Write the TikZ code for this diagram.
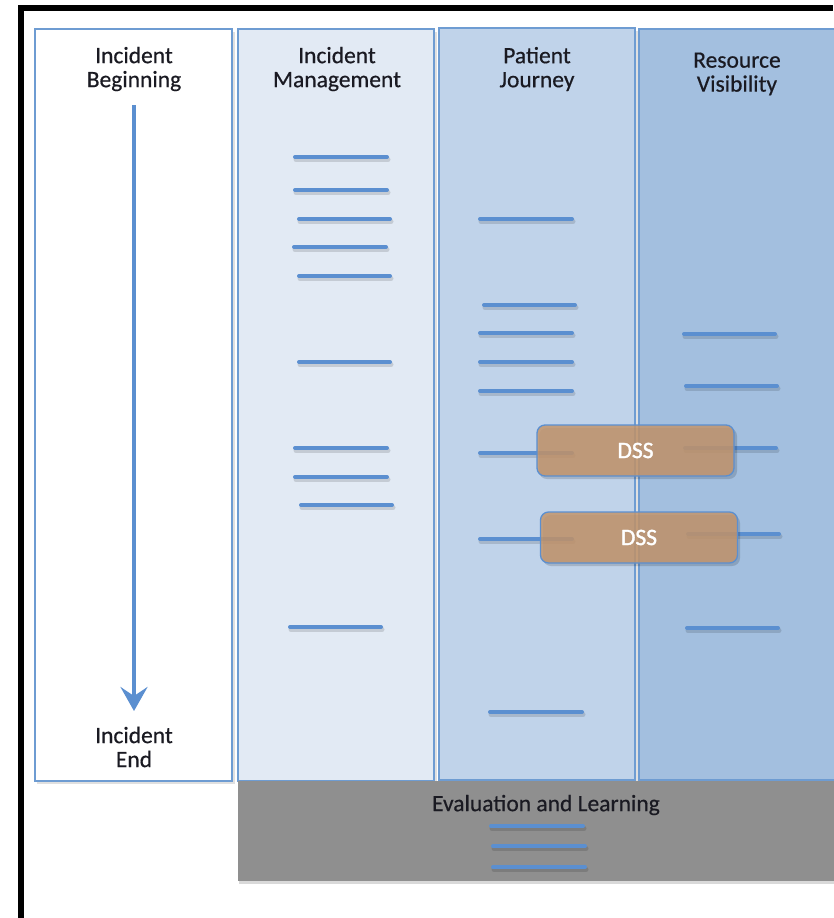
\documentclass[tikz,border=0pt]{standalone}
\usepackage{fontspec}
\setmainfont{Carlito}
\newfontfamily\hdrfont{Carlito}[FakeBold=0.5]
\newfontfamily\dssfont{Carlito}[FakeBold=1.6]
\usetikzlibrary{arrows.meta}
\definecolor{lineblue}{HTML}{5B8FD0}
\definecolor{edgeblue}{HTML}{6E9CD2}
\definecolor{colB}{HTML}{E2EAF4}
\definecolor{colC}{HTML}{C0D3EA}
\definecolor{colD}{HTML}{A3BFDF}
\definecolor{evalgray}{HTML}{8F8F8F}
\definecolor{dssfill}{HTML}{C3956C}
\definecolor{txt}{HTML}{1A1A22}
\newcommand{\bluebar}[3]{%
  \draw[barshadow] (#1+1,#3+2.5) -- (#2+1,#3+2.5);
  \draw[bar] (#1,#3) -- (#2,#3);}
\begin{document}
\begin{tikzpicture}[x=1pt,y=-1pt,
  lane/.style={draw=edgeblue, line width=1.3pt},
  lanetext/.style={align=center, text=txt, font=\hdrfont\fontsize{23.5}{24}\selectfont, inner sep=0pt},
  bar/.style={lineblue, line width=4pt, line cap=round},
  barshadow/.style={black, opacity=0.13, line width=5pt, line cap=round},
  dss/.style={draw=lineblue, line width=1.3pt, fill=dssfill, fill opacity=0.85, text opacity=1,
    text=white, rounded corners=8pt, minimum width=197pt, minimum height=51pt,
    font=\dssfont\fontsize{23.5}{24}\selectfont}]
\useasboundingbox (0,0) rectangle (833,918);
\fill[white] (0,0) rectangle (833,918);
% outer frame
\fill[black] (18,5) rectangle (24,918);
\fill[black] (18,5) rectangle (833,11);
% lanes (shadows)
\fill[black, opacity=0.12] (37,32) rectangle (235,784);
\fill[black, opacity=0.12] (240,32) rectangle (437,784);
\fill[black, opacity=0.12] (441,31) rectangle (638,783);
% lanes
\draw[lane, fill=white] (35,29) rectangle (232,781);
\draw[lane, fill=colB] (238,29) rectangle (434,781);
\draw[lane, fill=colC] (439,28) rectangle (635,780);
\draw[lane, fill=colD] (639,29) rectangle (850,780);
% evaluation bar
\fill[black, opacity=0.15] (239,784) rectangle (850,884);
\fill[evalgray] (238,781) rectangle (850,881);
% headers
\node[lanetext] (hA) at (134,69) {Incident\\Beginning};
\node[lanetext] (hB) at (337,69) {Incident\\Management};
\node[lanetext] (hC) at (537,69) {Patient\\Journey};
\node[lanetext] (hD) at (737,74) {Resource\\Visibility};
\node[lanetext] (hE) at (134,747) {Incident\\End};
\node[lanetext] (hF) at (546,805) {Evaluation and Learning};
% timeline arrow
\coordinate (tstart) at (134,105);
\coordinate (tend) at (134,711);
\draw[lineblue, line width=4.5pt, -{Stealth[length=24pt,width=27pt,inset=9pt]}] (tstart) -- (tend);
% incident management bars
\bluebar{295}{387}{157}
\bluebar{295}{387}{190}
\bluebar{299}{390}{219}
\bluebar{294}{386}{247}
\bluebar{299}{390}{276}
\bluebar{299}{390}{362}
\bluebar{295}{387}{448}
\bluebar{295}{387}{477}
\bluebar{301}{392}{505}
\bluebar{290}{381}{627}
% patient journey bars
\bluebar{480}{572}{219}
\bluebar{484}{575}{305}
\bluebar{480}{572}{333}
\bluebar{480}{572}{362}
\bluebar{480}{572}{391}
\bluebar{480}{572}{453}
\bluebar{480}{572}{539}
\bluebar{490}{582}{712}
% resource visibility bars
\bluebar{684}{775}{334}
\bluebar{686}{777}{386}
\bluebar{685}{776}{448}
\bluebar{688}{779}{534}
\bluebar{687}{778}{628}
% evaluation bars
\bluebar{491}{583}{826}
\bluebar{493}{585}{846}
\bluebar{493}{585}{867}
% DSS boxes
\fill[black, opacity=0.15, rounded corners=8pt] (539,428) rectangle (737,479);
\fill[black, opacity=0.15, rounded corners=8pt] (543,515) rectangle (740,566);
\node[dss] (dss1) at (635.5,450.5) {DSS};
\node[dss] (dss2) at (639,537.5) {DSS};
\end{tikzpicture}
\end{document}
